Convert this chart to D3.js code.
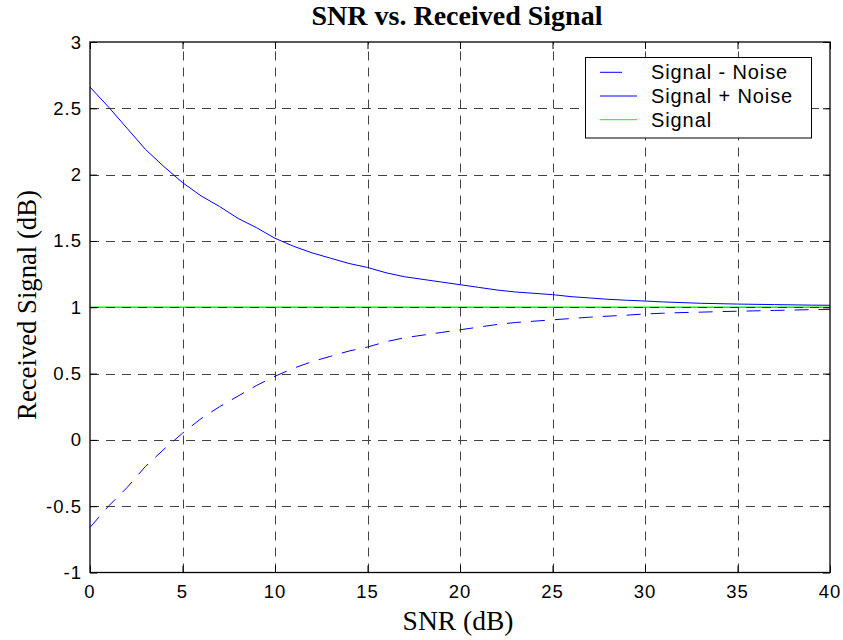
<!DOCTYPE html>
<html>
<head>
<meta charset="utf-8">
<script src="https://cdn.jsdelivr.net/npm/d3@7"></script>
<style>
    body { margin: 0; background: #fff; }
    .tick-label { font-family: "Liberation Sans", Arial, sans-serif; font-size: 18.5px; letter-spacing: 1px; fill: #000; }
    .legend-label { font-family: "Liberation Sans", Arial, sans-serif; font-size: 20px; letter-spacing: 0.9px; fill: #000; }
    .serif { font-family: "Liberation Serif", "Times New Roman", serif; fill: #000; }
</style>
</head>
<body>
<div id="chart"></div>
<script>
// values
const snr = [0, 1, 2, 3, 4, 5, 6, 7, 8, 9, 10, 11, 12, 13, 14, 15, 16, 17, 18, 19, 20,
    21, 22, 23, 24, 25, 26, 27, 28, 29, 30, 31, 32, 33, 34, 35, 36, 37, 38, 39, 40];
const signalPlusNoise = [2.66, 2.51, 2.35, 2.19, 2.06, 1.94, 1.84, 1.76, 1.67, 1.60, 1.52,
    1.46, 1.41, 1.37, 1.33, 1.30, 1.26, 1.23, 1.21, 1.19, 1.17,
    1.15, 1.13, 1.115, 1.105, 1.095, 1.08, 1.07, 1.06, 1.053, 1.047,
    1.04, 1.035, 1.03, 1.027, 1.024, 1.022, 1.02, 1.018, 1.016, 1.015];
const signalMinusNoise = [-0.66, -0.50, -0.36, -0.20, -0.07, 0.05, 0.16, 0.25, 0.33, 0.41, 0.48,
    0.54, 0.59, 0.63, 0.67, 0.70, 0.74, 0.77, 0.79, 0.81, 0.83,
    0.85, 0.87, 0.885, 0.895, 0.905, 0.915, 0.925, 0.933, 0.94, 0.95,
    0.955, 0.96, 0.963, 0.967, 0.97, 0.973, 0.976, 0.979, 0.982, 0.984];
const signalSnr = [0, 40];
const signalValues = [1, 1];

const xTicks = [0, 5, 10, 15, 20, 25, 30, 35, 40];
const yTicks = [-1, -0.5, 0, 0.5, 1, 1.5, 2, 2.5, 3];

const legendNames = ["Signal - Noise", "Signal + Noise", "Signal"];
const legendColors = ["#0000ff", "#0000ff", "#00ff00"];
const legendDashes = ["22,30", null, null];

const titleText = "SNR vs. Received Signal";
const xLabelText = "SNR (dB)";
const yLabelText = "Received Signal (dB)";

const W = 843, H = 640;
const plot = {left: 90, right: 830, top: 42, bottom: 572.5};

const svg = d3.select("#chart").append("svg")
    .attr("width", W)
    .attr("height", H);

const x = d3.scaleLinear().domain([0, 40]).range([plot.left, plot.right]);
const y = d3.scaleLinear().domain([-1, 3]).range([plot.bottom, plot.top]);

const line = d3.line()
    .x(d => x(d[0]))
    .y(d => y(d[1]));

// data lines
svg.append("path")
    .datum(d3.zip(snr, signalMinusNoise))
    .attr("fill", "none")
    .attr("stroke", "#0000ff")
    .attr("stroke-width", 1)
    .attr("stroke-dasharray", "14,10")
    .attr("d", line);

svg.append("path")
    .datum(d3.zip(snr, signalPlusNoise))
    .attr("fill", "none")
    .attr("stroke", "#0000ff")
    .attr("stroke-width", 1)
    .attr("d", line);

svg.append("path")
    .datum(d3.zip(signalSnr, signalValues))
    .attr("fill", "none")
    .attr("stroke", "#00ff00")
    .attr("stroke-width", 1.5)
    .attr("d", line);

// dashed grid, drawn over the lines like the original
const grid = svg.append("g")
    .attr("stroke", "#222")
    .attr("stroke-width", 1)
    .attr("stroke-dasharray", "9,7")
    .attr("opacity", 0.85);

grid.selectAll(".vgrid")
    .data(xTicks.slice(1, -1))
    .enter().append("line")
    .attr("class", "vgrid")
    .attr("x1", d => Math.round(x(d)) + 0.5)
    .attr("x2", d => Math.round(x(d)) + 0.5)
    .attr("y1", plot.bottom)
    .attr("y2", plot.top);

grid.selectAll(".hgrid")
    .data(yTicks.slice(1, -1))
    .enter().append("line")
    .attr("class", "hgrid")
    .attr("x1", plot.left)
    .attr("x2", plot.right)
    .attr("y1", d => Math.round(y(d)) + 0.5)
    .attr("y2", d => Math.round(y(d)) + 0.5);

// axes: inward ticks on all four sides
const tickLen = 7;
const axisBottom = svg.append("g")
    .attr("transform", "translate(0," + plot.bottom + ")")
    .call(d3.axisBottom(x).tickValues(xTicks).tickSize(-tickLen).tickFormat(""));
const axisTop = svg.append("g")
    .attr("transform", "translate(0," + plot.top + ")")
    .call(d3.axisTop(x).tickValues(xTicks).tickSize(-tickLen).tickFormat(""));
const axisLeft = svg.append("g")
    .attr("transform", "translate(" + plot.left + ",0)")
    .call(d3.axisLeft(y).tickValues(yTicks).tickSize(-tickLen).tickFormat(""));
const axisRight = svg.append("g")
    .attr("transform", "translate(" + plot.right + ",0)")
    .call(d3.axisRight(y).tickValues(yTicks).tickSize(-tickLen).tickFormat(""));

[axisBottom, axisTop, axisLeft, axisRight].forEach(a => {
    a.select(".domain").remove();
    a.selectAll("line").attr("stroke", "#000");
});

svg.append("rect")
    .attr("x", plot.left)
    .attr("y", plot.top)
    .attr("width", plot.right - plot.left)
    .attr("height", plot.bottom - plot.top)
    .attr("fill", "none")
    .attr("stroke", "#000")
    .attr("stroke-width", 1.3);

// tick labels
svg.selectAll(".xlab")
    .data(xTicks)
    .enter().append("text")
    .attr("class", "tick-label")
    .attr("x", d => x(d))
    .attr("y", 597.5)
    .attr("text-anchor", "middle")
    .text(d => String(d));

svg.selectAll(".ylab")
    .data(yTicks)
    .enter().append("text")
    .attr("class", "tick-label")
    .attr("x", 82)
    .attr("y", d => y(d) + 6.5)
    .attr("text-anchor", "end")
    .text(d => String(d));

// title and axis labels
svg.append("text")
    .attr("class", "serif")
    .attr("x", 457)
    .attr("y", 25)
    .attr("text-anchor", "middle")
    .style("font-size", "28px")
    .style("font-weight", "bold")
    .text(titleText);

svg.append("text")
    .attr("class", "serif")
    .attr("x", 458)
    .attr("y", 630)
    .attr("text-anchor", "middle")
    .style("font-size", "27.5px")
    .text(xLabelText);

svg.append("text")
    .attr("class", "serif")
    .attr("transform", "translate(36,305) rotate(-90)")
    .attr("text-anchor", "middle")
    .style("font-size", "26.7px")
    .text(yLabelText);

// legend
const legend = svg.append("g");
legend.append("rect")
    .attr("x", 585.5)
    .attr("y", 57.5)
    .attr("width", 226)
    .attr("height", 80.5)
    .attr("fill", "#fff")
    .attr("stroke", "#000")
    .attr("stroke-width", 1);

const rows = legend.selectAll(".row")
    .data(legendNames)
    .enter().append("g")
    .attr("transform", (d, i) => "translate(0," + (79.3 + i * 23.7) + ")");

rows.append("line")
    .attr("x1", 600)
    .attr("x2", 637)
    .attr("y1", -7)
    .attr("y2", -7)
    .attr("stroke", (d, i) => legendColors[i])
    .attr("stroke-width", 1)
    .attr("stroke-dasharray", (d, i) => legendDashes[i]);

rows.append("text")
    .attr("class", "legend-label")
    .attr("x", 651)
    .attr("y", 0)
    .text(d => d);
</script>
</body>
</html>
